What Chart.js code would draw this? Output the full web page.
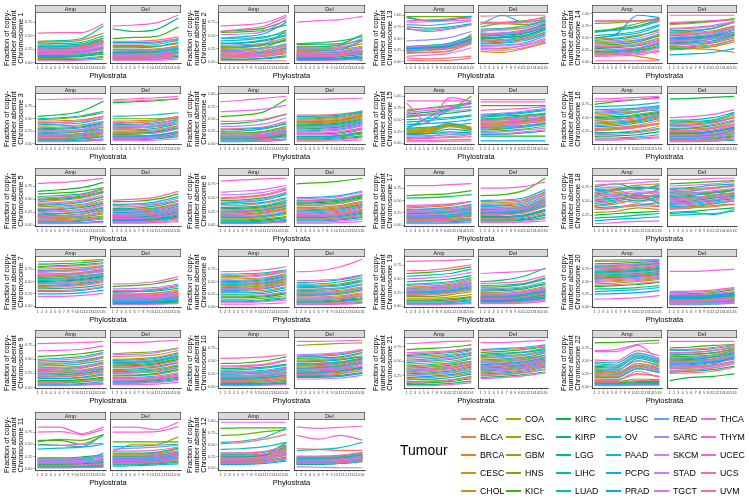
<!DOCTYPE html>
<html><head><meta charset="utf-8">
<script src="https://cdn.jsdelivr.net/npm/chart.js@4.4.1/dist/chart.umd.min.js"></script>
<style>
html,body{margin:0;padding:0;background:#fff;}
#root{position:relative;width:749px;height:501px;overflow:hidden;font-family:"Liberation Sans",Arial,Helvetica,sans-serif;}
canvas{position:absolute;}
.xt{position:absolute;font-size:7.5px;line-height:8px;color:#000;text-align:center;white-space:nowrap;width:100px;}
.lk{position:absolute;width:15px;height:2px;}
.lt{position:absolute;font-size:8.8px;line-height:12px;color:#000;white-space:nowrap;overflow:hidden;}
.ttl{position:absolute;font-size:14px;line-height:16px;color:#000;}
</style></head><body><div id="root"></div>
<script>
// ---------- data ----------
const tumours = ["ACC","BLCA","BRCA","CESC","CHOL","COAD","ESCA","GBM","HNSC","KICH","KIRC","KIRP","LGG","LIHC","LUAD","LUSC","OV","PAAD","PCPG","PRAD","READ","SARC","SKCM","STAD","TGCT","THCA","THYM","UCEC","UCS","UVM"];
const phylostrata = [1,2,3,4,5,6,7,8,9,10,11,12,13,14,15,16];
const samplePS = [1,6,11,16];           // phylostrata at which each smoothed line is read
const facets = ["Amp","Del"];
const yTickValues = [0,0.25,0.5,0.75,1];
// values: fraction (in %) per tumour (rows, same order as tumours) at samplePS
const chr1_amp = [[20,21,22,28],[30,31,33,42],[38,39,42,55],[25,26,28,38],[12,12,14,22],[15,15,17,25],[22,23,25,35],[8,8,9,12],[28,29,31,45],[10,10,12,16],[18,18,20,28],[26,27,30,40],[14,14,15,20],[40,41,45,68],[33,33,35,46],[30,30,31,40],[35,36,38,50],[20,20,22,30],[12,12,13,18],[6,6,7,10],[17,17,19,27],[24,24,26,36],[27,28,29,40],[22,22,24,33],[16,16,18,25],[4,4,5,7],[19,19,21,30],[24,25,27,38],[55,56,56,72],[28,28,30,38]];
const chr1_del = [[40,40,42,48],[22,22,24,32],[25,25,26,30],[15,15,16,22],[30,30,31,35],[12,12,13,18],[18,18,19,25],[10,10,11,14],[13,13,14,20],[45,47,49,66],[8,8,9,12],[20,20,21,27],[63,58,62,83],[28,28,30,38],[14,14,15,20],[17,17,18,24],[32,32,34,42],[20,21,22,28],[38,38,39,44],[6,6,7,10],[11,11,12,17],[22,23,24,30],[16,16,17,22],[13,13,14,18],[7,7,8,10],[5,5,5,7],[68,70,74,88],[12,12,13,18],[35,35,37,45],[9,9,10,14]];
const chr2_amp = [[3,3,3,3],[20,21,25,35],[14,15,18,28],[26,28,33,60],[10,11,14,22],[24,25,28,45],[18,19,22,32],[8,9,11,16],[30,31,34,42],[56,57,60,70],[58,60,64,78],[35,36,40,50],[6,6,8,12],[28,29,32,40],[45,45,48,55],[40,42,46,60],[36,37,42,52],[15,16,19,26],[45,48,54,75],[5,5,7,10],[22,23,27,33],[12,13,16,24],[32,33,36,46],[17,18,21,30],[52,53,58,80],[10,10,12,18],[68,70,74,88],[58,62,68,85],[14,15,17,24],[12,12,14,20]];
const chr2_del = [[30,30,33,42],[18,18,20,28],[12,12,14,20],[8,8,10,3],[22,22,24,30],[15,15,17,22],[10,10,12,18],[5,5,6,10],[25,25,27,35],[33,34,35,52],[9,9,11,15],[14,14,16,22],[6,6,7,9],[35,37,40,48],[17,17,19,26],[28,29,32,42],[20,21,24,40],[13,13,15,20],[7,7,8,12],[4,4,5,7],[11,11,13,17],[26,27,30,45],[19,19,21,28],[16,16,18,23],[3,3,4,5],[75,78,80,86],[10,10,12,16],[14,14,16,22],[24,24,27,40],[12,12,14,18]];
const chr3_amp = [[8,8,10,14],[25,26,28,36],[18,18,20,28],[45,46,48,55],[12,12,14,20],[20,21,24,30],[35,36,38,45],[10,10,12,16],[48,50,54,62],[5,5,6,8],[55,58,65,85],[30,31,34,42],[14,14,16,22],[22,23,25,33],[28,29,32,40],[50,52,56,65],[38,39,42,50],[16,16,18,25],[6,6,7,10],[9,9,10,14],[19,19,21,28],[32,33,36,44],[26,27,29,38],[24,24,27,34],[40,42,45,52],[4,4,5,7],[88,89,90,90],[15,15,17,24],[42,43,46,55],[11,11,13,18]];
const chr3_del = [[30,31,34,42],[35,36,40,50],[22,23,26,35],[45,46,48,55],[25,26,28,36],[12,12,14,20],[40,42,45,52],[15,15,17,24],[50,50,50,52],[18,19,22,30],[82,84,86,90],[20,21,24,32],[8,8,10,14],[28,28,31,40],[38,39,42,48],[55,56,58,62],[32,33,36,45],[16,16,18,25],[10,10,12,16],[14,14,16,22],[13,13,15,21],[36,37,40,50],[34,34,37,46],[24,24,27,35],[6,6,7,10],[88,90,92,95],[10,10,12,18],[20,20,22,30],[42,43,46,55],[85,86,88,90]];
const chr4_amp = [[30,31,34,45],[12,12,14,20],[8,8,10,15],[18,18,20,28],[10,10,12,16],[14,14,16,24],[20,21,24,32],[15,15,17,25],[22,22,25,35],[55,58,65,90],[10,10,12,16],[40,42,48,60],[12,12,14,20],[8,8,9,14],[11,11,13,18],[16,16,18,26],[25,26,30,42],[6,6,7,10],[28,29,32,40],[4,4,5,8],[14,14,16,24],[20,20,22,30],[35,36,40,52],[17,17,19,27],[65,67,70,78],[5,5,6,8],[85,88,92,96],[13,13,15,22],[45,46,50,60],[9,9,10,14]];
const chr4_del = [[58,58,60,65],[48,49,52,60],[40,41,44,52],[45,46,48,56],[35,36,38,46],[42,43,46,55],[50,51,54,62],[12,12,14,20],[44,45,48,57],[15,15,17,24],[30,31,34,42],[20,20,22,30],[10,10,12,16],[38,39,42,50],[36,37,40,48],[52,53,56,64],[55,56,58,66],[26,27,30,38],[14,14,16,22],[8,8,10,14],[33,34,37,45],[32,33,36,44],[28,29,32,40],[24,25,28,36],[18,18,20,28],[5,5,6,8],[90,90,91,92],[22,22,25,32],[46,47,50,58],[7,7,8,12]];
const chr5_amp = [[40,42,46,55],[30,32,36,45],[22,23,26,35],[45,48,52,62],[15,16,18,26],[12,13,15,22],[35,37,40,50],[10,11,13,18],[50,52,56,65],[60,62,65,72],[65,68,72,82],[28,30,34,42],[8,8,10,14],[20,22,25,33],[48,50,54,64],[55,57,60,70],[38,40,44,54],[18,19,22,30],[6,6,8,12],[4,4,5,8],[14,15,17,24],[32,34,38,46],[26,28,31,40],[24,26,29,38],[42,44,48,58],[3,3,4,6],[80,82,85,90],[17,18,21,28],[52,54,58,68],[9,9,11,16]];
const chr5_del = [[35,36,40,48],[25,26,30,38],[20,21,24,32],[15,16,19,26],[30,31,34,42],[22,23,26,34],[18,19,22,30],[8,8,10,14],[12,12,15,22],[45,46,50,60],[10,10,12,18],[28,29,32,40],[6,6,8,12],[32,33,37,46],[14,14,17,24],[11,11,13,20],[40,41,45,55],[24,25,28,36],[16,16,19,26],[9,9,11,16],[19,20,23,30],[38,39,42,52],[21,22,25,33],[27,28,31,40],[5,5,6,9],[4,4,5,7],[13,13,16,22],[17,18,21,28],[48,50,54,65],[7,7,9,13]];
const chr6_amp = [[35,36,40,48],[22,23,26,34],[18,18,21,28],[28,29,32,40],[12,12,14,20],[15,15,17,24],[25,26,29,36],[10,10,12,16],[20,21,24,31],[45,46,50,58],[8,8,10,14],[30,31,34,42],[6,6,8,11],[32,33,36,45],[24,25,28,35],[38,39,42,50],[40,42,46,56],[14,14,16,22],[5,5,6,9],[4,4,5,7],[16,16,18,25],[42,44,48,60],[55,56,60,68],[26,27,30,38],[60,62,65,72],[3,3,4,6],[80,82,84,85],[19,19,22,30],[48,50,54,64],[50,52,56,66]];
const chr6_del = [[30,31,34,42],[35,36,40,48],[28,29,32,40],[20,21,24,32],[25,26,29,36],[18,18,21,28],[32,33,36,44],[12,12,14,20],[38,39,42,50],[75,77,80,85],[40,41,44,52],[15,15,18,24],[10,10,12,16],[42,43,46,54],[26,27,30,38],[45,46,48,55],[50,51,54,62],[22,23,26,34],[8,8,10,14],[14,14,16,22],[16,16,19,26],[36,37,40,48],[48,49,52,60],[24,25,28,35],[6,6,8,11],[4,4,5,7],[19,19,22,29],[17,17,20,27],[44,45,48,56],[11,11,13,18]];
const chr7_amp = [[70,72,74,80],[55,56,58,62],[45,46,48,55],[60,62,65,70],[40,41,44,50],[75,76,78,82],[65,66,68,74],[90,91,92,95],[58,60,62,66],[80,82,84,88],[50,51,54,60],[85,86,88,92],[35,36,38,44],[52,53,56,62],[62,63,66,72],[56,57,60,66],[48,49,52,58],[42,43,46,52],[30,30,32,38],[25,25,27,32],[72,73,75,80],[54,55,58,64],[68,70,72,76],[62,63,66,70],[78,80,82,86],[20,20,22,26],[38,39,42,48],[46,47,50,56],[64,65,68,74],[32,32,34,40]];
const chr7_del = [[15,15,16,20],[22,22,24,28],[18,18,20,24],[12,12,14,18],[25,25,27,32],[8,8,9,12],[14,14,16,20],[5,5,6,8],[10,10,12,15],[40,42,46,55],[6,6,7,10],[20,20,22,26],[4,4,5,7],[28,29,31,36],[16,16,18,22],[11,11,13,16],[30,30,33,40],[13,13,15,19],[9,9,10,13],[7,7,8,11],[12,12,13,17],[35,36,38,45],[19,19,21,26],[17,17,19,23],[3,3,4,5],[45,46,50,60],[24,24,26,30],[14,14,16,20],[32,32,35,42],[21,21,23,28]];
const chr8_amp = [[35,36,38,45],[40,41,44,52],[55,56,58,66],[30,31,33,40],[45,46,48,56],[42,43,46,54],[60,61,64,70],[15,15,17,22],[38,39,42,50],[20,20,22,28],[18,18,20,26],[25,25,27,34],[10,10,12,16],[50,51,54,62],[48,49,52,60],[44,45,48,56],[65,66,68,74],[32,33,36,44],[12,12,14,18],[28,28,30,38],[52,53,56,64],[36,37,40,48],[58,59,62,70],[46,47,50,58],[22,22,24,30],[5,5,6,8],[8,8,10,13],[34,35,38,46],[70,71,74,80],[62,63,66,72]];
const chr8_del = [[20,20,22,28],[35,36,38,45],[42,43,46,54],[18,18,20,26],[28,29,31,38],[30,31,33,40],[25,26,28,35],[8,8,10,14],[22,23,25,32],[15,15,17,22],[10,10,12,16],[12,12,14,18],[5,5,6,9],[45,46,50,58],[32,33,36,44],[38,39,42,50],[40,41,44,52],[24,24,27,34],[9,9,11,15],[48,50,54,62],[26,27,29,36],[34,35,38,46],[16,16,18,24],[27,28,30,37],[6,6,7,10],[4,4,5,7],[70,72,80,95],[14,14,16,21],[52,53,56,64],[7,7,8,11]];
const chr9_amp = [[30,31,34,42],[20,21,24,30],[25,26,28,35],[40,42,45,52],[15,15,17,22],[18,19,21,27],[35,36,38,45],[10,10,12,16],[28,29,31,38],[55,57,60,66],[12,12,14,18],[45,46,48,55],[8,8,10,13],[22,23,25,32],[32,33,36,44],[38,39,42,48],[50,52,55,62],[16,16,18,24],[6,6,7,10],[4,4,5,7],[24,25,27,34],[42,43,46,54],[27,28,30,37],[33,34,37,44],[65,66,68,74],[3,3,4,6],[78,79,80,82],[19,19,22,28],[48,49,52,60],[9,9,11,14]];
const chr9_del = [[35,36,38,45],[55,56,58,66],[30,31,33,40],[20,21,23,30],[40,41,44,52],[15,15,17,22],[50,51,54,62],[60,62,64,70],[45,46,48,56],[25,26,28,35],[38,39,42,50],[22,22,25,32],[12,12,14,18],[28,29,31,38],[42,43,46,54],[48,49,52,60],[32,33,36,44],[44,45,48,56],[8,8,10,14],[10,10,12,16],[18,18,20,26],[46,47,50,58],[58,59,62,70],[26,27,29,36],[5,5,6,9],[80,80,82,84],[16,16,18,24],[13,13,15,20],[36,37,40,48],[7,7,9,12]];
const chr10_amp = [[15,15,17,22],[20,20,22,28],[12,12,14,18],[25,26,28,34],[10,10,12,16],[18,18,20,26],[22,22,24,30],[5,5,6,8],[28,28,30,36],[45,46,50,58],[8,8,10,13],[35,36,38,44],[6,6,7,10],[16,16,18,23],[24,25,27,33],[30,30,32,38],[32,33,36,42],[14,14,16,21],[4,4,5,7],[3,3,4,6],[19,19,21,27],[26,27,29,35],[21,21,23,29],[27,27,30,36],[40,41,44,52],[2,2,3,4],[55,56,58,62],[13,13,15,20],[38,39,42,50],[9,9,11,14]];
const chr10_del = [[45,46,48,55],[38,39,42,50],[30,31,34,40],[25,26,28,35],[50,51,54,60],[22,22,25,32],[40,41,44,52],[80,82,84,85],[35,36,38,46],[55,56,58,66],[42,43,46,54],[28,29,31,38],[20,20,22,28],[48,49,52,58],[36,37,40,48],[44,45,48,55],[58,59,62,70],[32,33,36,44],[18,18,20,26],[26,27,30,36],[34,35,38,45],[52,53,56,64],[62,63,66,72],[33,34,37,44],[15,15,17,22],[88,88,89,90],[41,42,45,52],[29,30,33,40],[60,61,64,72],[24,24,26,32]];
const chr11_amp = [[10,10,12,16],[15,15,16,20],[12,12,14,18],[20,20,22,25],[8,8,9,12],[6,6,7,10],[18,18,20,24],[5,5,6,8],[55,60,58,70],[58,58,50,68],[9,9,10,13],[22,22,24,28],[4,4,5,7],[50,48,45,70],[14,14,15,18],[17,17,19,26],[40,42,44,50],[15,18,16,32],[3,3,4,5],[2,2,3,4],[11,11,12,15],[19,19,21,26],[13,13,14,18],[16,16,17,21],[48,48,50,52],[2,2,2,3],[85,85,72,85],[75,76,70,80],[7,7,8,10],[6,6,7,9]];
const chr11_del = [[25,25,26,30],[20,20,22,28],[30,30,32,40],[35,50,50,65],[15,15,17,22],[28,28,30,36],[22,22,24,30],[12,12,14,18],[18,18,20,26],[55,55,55,55],[10,10,12,16],[26,26,28,34],[8,8,10,13],[32,32,34,42],[16,16,18,24],[24,24,26,32],[45,46,48,50],[19,19,21,27],[5,6,8,10],[14,14,16,21],[21,21,23,29],[40,42,44,48],[27,27,29,35],[17,17,19,25],[13,13,15,20],[85,85,80,95],[75,75,76,86],[23,23,25,31],[36,36,38,44],[11,11,13,17]];
const chr12_amp = [[52,55,62,72],[18,18,20,30],[15,15,18,28],[20,21,24,40],[12,12,14,22],[22,23,26,38],[16,16,19,30],[25,25,28,45],[70,72,78,82],[85,86,86,86],[28,28,30,55],[24,25,28,48],[14,14,16,24],[30,30,34,50],[26,26,30,42],[40,42,46,55],[55,58,66,85],[18,18,21,32],[10,10,12,18],[8,8,10,15],[19,19,22,33],[32,32,35,40],[17,17,20,30],[21,21,24,36],[98,98,98,98],[13,13,15,22],[33,33,36,48],[20,20,22,34],[27,27,30,40],[11,11,13,20]];
const chr12_del = [[42,40,38,38],[18,18,20,26],[15,15,17,22],[20,20,22,28],[22,22,24,30],[12,12,14,18],[16,16,18,24],[10,10,12,16],[14,14,16,21],[19,19,21,27],[8,8,10,14],[17,17,19,25],[13,13,15,20],[21,21,23,29],[11,11,13,17],[24,24,26,32],[38,40,44,55],[16,16,18,23],[9,9,11,15],[12,12,14,19],[14,14,16,21],[25,25,27,33],[18,18,20,26],[15,15,17,23],[3,2,1,1],[88,85,87,90],[70,62,70,60],[13,13,15,20],[26,26,28,34],[10,10,12,16]];
const chr13_amp = [[3,2,3,8],[28,30,34,48],[22,24,28,40],[20,20,22,60],[30,31,35,50],[30,32,36,50],[30,32,38,55],[25,27,30,42],[97,97,97,97],[32,33,37,45],[96,88,92,97],[27,28,32,52],[75,72,75,82],[33,35,40,55],[26,28,33,45],[30,32,36,50],[24,26,30,44],[70,68,72,80],[95,88,90,98],[28,30,34,48],[80,78,82,88],[45,47,52,65],[32,34,38,52],[12,14,18,30],[85,86,88,90],[72,65,70,80],[25,27,30,45],[18,20,24,38],[88,90,92,94],[8,6,8,12]];
const chr13_del = [[98,99,100,100],[60,62,68,80],[55,58,64,78],[30,28,35,45],[22,20,28,40],[40,42,48,60],[65,70,72,85],[75,82,80,88],[50,52,56,70],[85,85,88,95],[58,60,65,80],[48,52,56,72],[62,60,66,82],[55,57,62,75],[45,48,53,68],[70,72,76,88],[38,40,45,58],[80,100,85,90],[42,45,50,64],[52,54,60,74],[35,36,40,55],[60,62,65,78],[28,30,34,48],[68,68,72,85],[33,34,38,50],[82,82,84,92],[58,60,64,76],[26,25,30,42],[45,46,50,62],[85,84,86,97]];
const chr14_amp = [[85,86,86,88],[22,24,28,40],[30,32,38,50],[25,18,12,5],[48,50,56,65],[20,22,26,35],[40,42,46,55],[62,70,80,90],[80,82,85,90],[35,37,42,55],[18,20,24,32],[65,68,75,88],[28,30,34,45],[45,48,54,68],[55,58,64,78],[15,16,20,30],[62,66,72,85],[50,55,60,75],[22,24,28,38],[50,58,97,92],[38,40,45,58],[32,34,38,48],[18,19,22,30],[42,45,50,62],[25,27,30,42],[12,13,15,22],[85,85,85,86],[32,33,36,45],[3,3,3,3],[15,16,18,25]];
const chr14_del = [[97,97,97,97],[45,48,52,62],[30,28,26,20],[35,38,42,55],[60,62,65,75],[25,28,32,42],[78,80,84,88],[50,52,56,68],[32,34,40,50],[80,82,85,90],[40,42,48,58],[55,57,62,72],[28,30,35,46],[65,66,70,82],[45,47,52,62],[50,52,58,72],[38,40,44,56],[62,64,70,84],[15,17,20,28],[48,50,54,66],[42,44,48,60],[52,54,58,66],[70,72,76,84],[36,38,42,52],[58,60,62,72],[82,84,86,88],[44,46,50,60],[30,32,36,46],[68,70,74,82],[56,58,62,74]];
const chr15_amp = [[10,12,14,18],[25,27,38,30],[22,24,36,28],[28,30,40,32],[24,26,38,30],[20,22,35,28],[30,32,42,34],[26,28,40,30],[55,62,72,100],[68,75,80,85],[62,66,72,78],[58,60,64,70],[20,20,24,22],[45,48,52,58],[35,45,72,85],[32,34,38,42],[30,55,75,88],[50,52,55,60],[18,20,30,25],[40,42,45,50],[15,16,18,20],[12,14,22,18],[65,70,74,78],[60,62,68,72],[5,6,7,8],[85,45,97,90],[90,90,90,90],[72,74,78,84],[8,10,12,14],[3,3,4,5]];
const chr15_del = [[93,93,93,93],[50,52,56,62],[38,40,44,50],[42,44,48,54],[35,37,42,48],[30,32,36,42],[40,42,46,52],[45,46,48,50],[25,27,30,36],[80,80,80,80],[15,15,15,15],[48,50,52,56],[55,58,60,62],[52,54,58,64],[33,35,38,42],[60,62,66,72],[28,30,34,40],[58,60,64,70],[5,5,5,5],[18,19,22,26],[32,34,37,44],[22,24,28,32],[62,64,68,74],[45,47,50,58],[36,38,42,46],[88,88,88,88],[70,72,74,78],[48,50,54,60],[40,42,45,52],[20,20,24,28]];
const chr16_amp = [[30,32,36,45],[20,22,26,34],[55,58,62,72],[35,38,42,50],[28,30,34,40],[40,42,46,52],[25,28,32,38],[48,50,56,62],[60,62,66,70],[75,80,84,88],[15,16,18,24],[50,52,54,60],[22,22,24,30],[45,48,52,58],[38,40,44,54],[65,66,68,72],[52,55,60,68],[70,72,74,78],[12,12,14,18],[33,35,40,48],[58,60,62,64],[42,44,48,55],[18,19,22,28],[62,64,66,70],[8,8,10,12],[85,86,88,90],[80,82,84,86],[26,28,32,40],[45,47,50,56],[10,10,12,14]];
const chr16_del = [[15,15,18,25],[25,26,30,38],[35,36,40,52],[18,18,20,28],[28,29,32,42],[12,12,15,20],[40,41,44,55],[8,8,10,14],[22,22,25,33],[20,20,23,30],[85,86,88,90],[30,31,35,45],[10,10,12,16],[45,46,50,60],[16,16,19,26],[38,38,42,50],[42,43,46,58],[14,14,17,22],[5,5,6,8],[20,21,24,32],[11,11,13,18],[33,34,37,46],[24,24,27,35],[13,13,16,22],[6,6,7,10],[50,52,56,65],[17,17,20,27],[26,26,30,38],[36,37,40,50],[7,7,9,12]];
const chr17_amp = [[30,32,34,40],[20,21,24,30],[35,37,40,48],[15,15,17,22],[12,12,14,18],[25,26,28,34],[22,23,25,30],[10,10,12,15],[18,18,20,26],[60,62,64,70],[14,14,16,20],[55,56,58,62],[8,8,9,12],[28,29,31,36],[24,24,27,32],[16,16,18,23],[32,33,36,42],[19,19,21,27],[6,6,7,10],[4,4,5,7],[17,17,19,24],[26,27,29,35],[21,22,24,29],[29,30,32,38],[40,41,43,48],[3,3,4,5],[80,80,82,84],[13,13,15,20],[38,39,42,48],[9,9,10,13]];
const chr17_del = [[40,41,46,62],[30,31,35,50],[25,26,30,45],[20,21,25,38],[35,36,40,55],[28,29,33,48],[45,46,50,68],[15,15,18,28],[22,23,27,40],[60,62,70,95],[10,10,12,20],[18,18,21,32],[8,8,10,16],[32,33,37,52],[26,27,31,46],[38,39,43,58],[50,51,55,72],[24,25,28,42],[12,12,14,22],[16,16,19,30],[27,28,32,46],[42,43,47,64],[34,34,38,54],[29,30,34,48],[6,6,8,13],[5,5,6,9],[75,75,78,88],[21,22,25,38],[48,49,52,66],[13,13,16,25]];
const chr18_amp = [[45,50,55,52],[55,60,58,62],[40,45,52,50],[60,65,62,68],[35,38,45,42],[70,72,78,80],[50,55,60,58],[30,32,38,35],[65,70,72,75],[75,80,72,78],[25,28,30,32],[58,62,55,60],[20,22,25,28],[48,52,60,56],[62,68,74,70],[52,55,50,58],[42,48,62,45],[68,70,75,72],[15,18,20,22],[38,40,42,48],[72,75,70,78],[55,58,65,62],[45,50,48,55],[60,62,68,65],[78,80,82,85],[10,12,14,15],[85,85,88,88],[50,54,58,60],[65,68,62,70],[35,38,42,40]];
const chr18_del = [[50,52,56,60],[60,62,65,70],[45,48,52,55],[55,56,60,64],[38,40,45,50],[70,72,74,78],[52,55,58,62],[35,38,42,45],[62,64,66,70],[80,82,84,86],[30,32,35,38],[48,50,55,58],[25,26,28,32],[58,60,64,68],[65,66,60,72],[40,42,46,50],[55,58,50,62],[72,74,78,80],[28,30,26,35],[44,46,50,54],[66,68,72,76],[50,53,57,60],[42,44,48,52],[62,64,68,72],[76,78,80,84],[88,88,90,90],[46,48,52,56],[54,56,60,65],[68,70,72,76],[36,38,40,44]];
const chr19_amp = [[25,26,28,34],[30,32,35,42],[35,37,40,48],[20,21,24,30],[15,15,17,22],[28,30,33,40],[22,23,26,32],[12,12,14,18],[18,18,21,27],[60,62,66,72],[10,10,12,16],[45,47,50,56],[8,8,9,12],[32,34,37,44],[40,42,45,52],[26,27,30,36],[55,57,60,68],[24,25,28,34],[6,6,7,10],[4,4,5,7],[27,28,31,38],[38,40,43,50],[33,35,38,45],[29,31,34,41],[50,52,55,62],[3,3,4,5],[82,83,84,86],[21,22,25,31],[65,66,70,76],[9,9,10,14]];
const chr19_del = [[22,22,25,32],[18,18,21,28],[15,15,17,24],[12,12,14,20],[25,26,29,36],[8,8,10,14],[20,20,23,30],[10,10,12,17],[16,16,19,26],[35,36,40,50],[14,14,16,22],[28,29,32,40],[45,48,55,70],[30,31,34,42],[13,13,15,21],[17,17,20,27],[38,39,42,52],[19,19,22,29],[11,11,13,18],[9,9,11,15],[7,7,9,12],[32,33,36,45],[21,21,24,31],[24,24,27,34],[5,5,6,9],[60,62,64,68],[23,23,26,33],[14,14,17,23],[42,43,46,56],[6,6,8,11]];
const chr20_amp = [[60,62,64,68],[70,72,74,78],[65,67,70,74],[55,57,60,64],[50,52,54,58],[92,93,93,94],[78,80,82,85],[45,47,50,54],[58,60,62,66],[85,86,88,90],[40,42,44,48],[68,70,72,76],[35,36,38,42],[62,64,66,70],[72,74,76,80],[66,68,70,74],[80,82,84,86],[56,58,60,64],[30,32,34,38],[25,26,28,32],[90,90,91,92],[52,54,56,60],[64,66,68,72],[82,83,85,88],[75,76,78,82],[15,16,18,22],[48,50,52,56],[54,56,58,62],[76,78,80,84],[42,44,46,50]];
const chr20_del = [[20,20,22,26],[12,12,14,18],[10,10,12,15],[15,15,17,21],[18,18,20,24],[5,5,6,8],[8,8,10,13],[14,14,16,20],[11,11,13,17],[25,26,28,34],[16,16,18,22],[9,9,11,14],[13,13,15,19],[22,22,24,28],[7,7,9,12],[10,10,12,16],[6,6,8,11],[17,17,19,23],[21,21,23,27],[19,19,21,25],[4,4,5,7],[28,29,31,36],[13,13,15,19],[9,9,11,14],[6,6,7,9],[70,70,72,74],[24,24,26,30],[12,12,14,18],[30,31,33,38],[11,11,13,16]];
const chr21_amp = [[40,42,45,50],[30,32,35,42],[25,27,30,36],[35,37,40,46],[20,22,25,30],[55,57,60,65],[45,47,50,56],[15,16,18,24],[38,40,43,50],[70,72,74,78],[12,13,15,20],[60,62,65,70],[10,10,12,16],[28,30,33,40],[48,50,53,60],[42,44,47,54],[52,54,58,64],[33,35,38,44],[18,19,22,28],[22,24,27,33],[58,60,62,68],[26,28,31,38],[36,38,41,48],[50,52,55,62],[65,66,68,72],[8,8,10,13],[80,82,84,85],[32,34,37,44],[62,64,67,72],[14,15,17,22]];
const chr21_del = [[45,47,50,56],[55,57,60,66],[40,42,45,52],[35,37,40,46],[50,52,55,60],[30,32,35,42],[58,60,62,68],[25,27,30,36],[48,50,53,60],[65,67,70,75],[38,40,43,50],[42,44,47,54],[22,24,27,32],[60,62,65,70],[52,54,57,64],[62,64,66,72],[70,72,74,78],[44,46,49,56],[28,30,33,40],[33,35,38,44],[36,38,41,48],[56,58,61,67],[47,49,52,58],[41,43,46,53],[20,22,25,30],[82,82,84,86],[32,34,37,43],[39,41,44,51],[68,70,72,76],[26,28,31,37]];
const chr22_amp = [[12,12,30,18],[25,24,45,35],[22,20,40,32],[28,26,40,30],[15,14,25,20],[30,28,45,38],[20,18,35,28],[10,10,15,14],[35,33,50,42],[85,86,88,90],[8,8,10,10],[40,38,58,48],[6,6,8,8],[32,30,55,45],[45,42,62,52],[38,36,60,50],[48,46,65,55],[18,17,35,28],[5,5,6,6],[3,3,4,4],[26,24,42,34],[42,40,58,50],[24,22,38,30],[34,32,50,40],[68,68,80,50],[2,2,3,3],[70,72,82,85],[14,13,25,20],[52,50,70,60],[9,9,12,12]];
const chr22_del = [[55,56,60,66],[60,62,65,72],[50,51,54,62],[30,32,36,45],[45,46,50,58],[40,41,45,54],[65,66,70,76],[35,36,40,48],[58,59,62,70],[75,77,80,82],[12,18,20,25],[52,53,57,64],[28,30,33,40],[62,63,66,74],[48,49,52,60],[70,71,74,80],[54,55,58,66],[42,43,47,56],[38,39,43,60],[44,45,48,56],[46,47,50,58],[56,57,60,68],[36,37,40,48],[47,48,52,60],[32,33,37,45],[88,88,88,88],[66,67,70,78],[38,39,42,50],[72,73,76,82],[26,27,30,38]];

const chromData = {
  1:[chr1_amp,chr1_del],2:[chr2_amp,chr2_del],3:[chr3_amp,chr3_del],4:[chr4_amp,chr4_del],
  5:[chr5_amp,chr5_del],6:[chr6_amp,chr6_del],7:[chr7_amp,chr7_del],8:[chr8_amp,chr8_del],
  9:[chr9_amp,chr9_del],10:[chr10_amp,chr10_del],11:[chr11_amp,chr11_del],12:[chr12_amp,chr12_del],
  13:[chr13_amp,chr13_del],14:[chr14_amp,chr14_del],15:[chr15_amp,chr15_del],16:[chr16_amp,chr16_del],
  17:[chr17_amp,chr17_del],18:[chr18_amp,chr18_del],19:[chr19_amp,chr19_del],20:[chr20_amp,chr20_del],
  21:[chr21_amp,chr21_del],22:[chr22_amp,chr22_del]
};

// ---------- styling / layout ----------
const FONT = '"Liberation Sans", Arial, Helvetica, sans-serif';
function hcl(h, c, l) {
  const hr = h * Math.PI / 180, u = c * Math.cos(hr), v = c * Math.sin(hr);
  const Xn = 95.047, Yn = 100, Zn = 108.883;
  const Y = l > 8 ? Yn * Math.pow((l + 16) / 116, 3) : Yn * l / 903.3;
  const d = Xn + 15 * Yn + 3 * Zn, un = 4 * Xn / d, vn = 9 * Yn / d;
  const up = u / (13 * l) + un, vp = v / (13 * l) + vn;
  const X = 9 * Y * up / (4 * vp), Z = Y * (12 - 3 * up - 20 * vp) / (4 * vp);
  const x = X / 100, y = Y / 100, z = Z / 100;
  const lin = [3.240479*x - 1.537150*y - 0.498535*z, -0.969256*x + 1.875992*y + 0.041556*z, 0.055648*x - 0.204043*y + 1.057311*z];
  return '#' + lin.map(t => { t = t <= 0.0031308 ? 12.92 * t : 1.055 * Math.pow(t, 1 / 2.4) - 0.055; t = Math.max(0, Math.min(1, t)); return Math.round(t * 255).toString(16).padStart(2, '0'); }).join('');
}
const colours = tumours.map((_, i) => hcl(15 + 360 * i / tumours.length, 100, 65));

const root = document.getElementById('root');
const ampLeft = [35, 218, 404, 592];
const delRight = [181, 365, 548, 737];
const rowTop = [5, 86, 168, 249, 330, 412];
const GAP = 4, STRIP = 8, PLOT_H = 50, XAX = 10, YAXW = 34;

const stripPlugin = {
  id: 'strip',
  afterDraw(chart, args, opts) {
    const { ctx, chartArea: a } = chart;
    ctx.save();
    ctx.fillStyle = '#D9D9D9';
    ctx.fillRect(a.left, a.top - STRIP, a.right - a.left, STRIP);
    ctx.strokeStyle = '#333333'; ctx.lineWidth = 0.6;
    ctx.strokeRect(a.left + 0.3, a.top - STRIP + 0.3, a.right - a.left - 0.6, STRIP - 0.6);
    ctx.fillStyle = '#1A1A1A'; ctx.font = '5.5px ' + FONT;
    ctx.textAlign = 'center'; ctx.textBaseline = 'middle';
    ctx.fillText(opts.label, (a.left + a.right) / 2, a.top - STRIP / 2 + 0.3);
    ctx.restore();
  }
};

function facetChart(plotLeft, top, plotW, rows, yMin, yMax, isAmp, label, chrom) {
  const yW = isAmp ? YAXW : 0, padL = isAmp ? 0 : 1;
  const W = yW + padL + plotW + 1, H = STRIP + PLOT_H + XAX;
  const cv = document.createElement('canvas');
  cv.width = W; cv.height = H;
  cv.style.left = (plotLeft - yW - padL) + 'px'; cv.style.top = top + 'px';
  cv.style.width = W + 'px'; cv.style.height = H + 'px';
  root.appendChild(cv);
  const datasets = rows.map((r, i) => ({
    label: tumours[i],
    data: samplePS.map((x, j) => ({ x, y: r[j] / 100 })),
    borderColor: colours[i], backgroundColor: colours[i],
    borderWidth: 1.2, pointRadius: 0, fill: false,
    cubicInterpolationMode: 'monotone', order: rows.length - i
  }));
  new Chart(cv, {
    type: 'line',
    data: { datasets },
    options: {
      responsive: false, animation: false, devicePixelRatio: 1,
      layout: { padding: { top: STRIP, left: padL, right: 1, bottom: 0 } },
      plugins: { legend: { display: false }, tooltip: { enabled: false }, strip: { label } },
      scales: {
        x: {
          type: 'linear', min: 0.4, max: 16.6,
          afterBuildTicks: s => { s.ticks = phylostrata.map(v => ({ value: v })); },
          afterFit: s => { s.height = XAX; },
          ticks: { autoSkip: false, maxRotation: 0, minRotation: 0, padding: 0.5, color: '#4D4D4D', font: { size: 4, family: FONT }, callback: v => String(v) },
          grid: { display: true, drawOnChartArea: false, drawTicks: true, tickLength: 1.5, color: '#333333', lineWidth: 0.5 },
          border: { display: true, color: '#000000', width: 0.7 }
        },
        y: {
          type: 'linear', min: yMin, max: yMax,
          afterBuildTicks: s => { s.ticks = yTickValues.filter(v => v >= s.min - 1e-9 && v <= s.max + 1e-9).map(v => ({ value: v })); },
          afterFit: s => { s.width = yW; },
          ticks: { display: isAmp, padding: 1, color: '#4D4D4D', font: { size: 4, family: FONT }, callback: v => Number(v).toFixed(2) },
          grid: { display: isAmp, drawOnChartArea: false, drawTicks: true, tickLength: 1.5, color: '#333333', lineWidth: 0.5 },
          border: { display: true, color: '#000000', width: 0.7 },
          title: isAmp ? { display: true, text: ['Fraction of copy-', 'number aberrant', 'Chromosome ' + chrom], color: '#000000', font: { size: 7.5, family: FONT, lineHeight: 0.95 }, padding: { top: 2, bottom: 0 } } : { display: false }
        }
      }
    },
    plugins: [stripPlugin]
  });
}

for (let chrom = 1; chrom <= 22; chrom++) {
  let col, row;
  if (chrom <= 12) { col = (chrom - 1) % 2; row = Math.floor((chrom - 1) / 2); }
  else { col = 2 + (chrom - 13) % 2; row = Math.floor((chrom - 13) / 2); }
  const [ampRows, delRows] = chromData[chrom];
  const all = ampRows.concat(delRows).flat().map(v => v / 100);
  const lo = Math.min(...all), hi = Math.max(...all), rg = hi - lo;
  const yMin = lo - 0.05 * rg, yMax = hi + 0.05 * rg;
  const plotW = Math.floor((delRight[col] - ampLeft[col] - GAP) / 2);
  const top = rowTop[row];
  facetChart(ampLeft[col], top, plotW, ampRows, yMin, yMax, true, facets[0], chrom);
  facetChart(delRight[col] - plotW, top, plotW, delRows, yMin, yMax, false, facets[1], chrom);
  const xt = document.createElement('div');
  xt.className = 'xt'; xt.textContent = 'Phylostrata';
  xt.style.left = ((ampLeft[col] + delRight[col]) / 2 - 50) + 'px';
  xt.style.top = (top + 67) + 'px';
  root.appendChild(xt);
}

// ---------- legend ----------
const legTextX = [480, 525, 575, 625, 673, 720];
const legRowY = [419, 437, 455, 473, 491];
const ttl = document.createElement('div');
ttl.className = 'ttl'; ttl.textContent = 'Tumour';
ttl.style.left = '400px'; ttl.style.top = '442px';
root.appendChild(ttl);
tumours.forEach((t, i) => {
  const c = Math.floor(i / 5), r = i % 5;
  const k = document.createElement('div');
  k.className = 'lk'; k.style.background = colours[i];
  k.style.left = (legTextX[c] - 19) + 'px'; k.style.top = (legRowY[r] - 1) + 'px';
  root.appendChild(k);
  const tx = document.createElement('div');
  tx.className = 'lt'; tx.textContent = t;
  tx.style.left = legTextX[c] + 'px'; tx.style.top = (legRowY[r] - 6) + 'px';
  if (c === 1) tx.style.width = '18.5px';
  root.appendChild(tx);
});
</script>
</body></html>
